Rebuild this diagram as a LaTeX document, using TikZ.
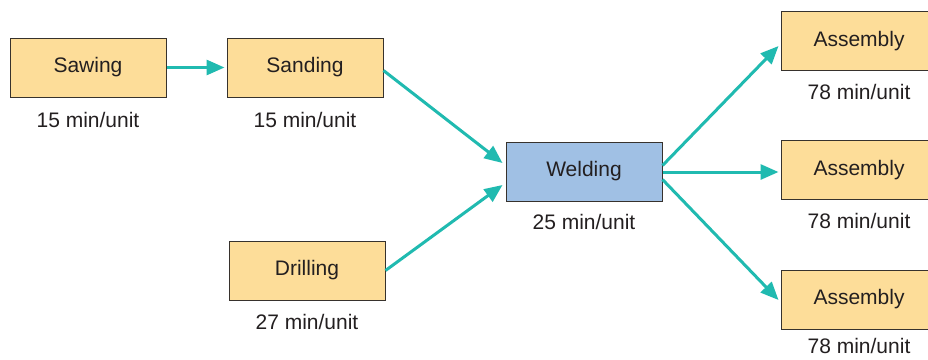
\documentclass[tikz,border=0pt]{standalone}
\usepackage{fontspec}
\setmainfont{Liberation Sans}
\usetikzlibrary{arrows.meta,calc}
\definecolor{boxorange}{RGB}{253,221,153}
\definecolor{boxblue}{RGB}{160,192,228}
\definecolor{arrowteal}{RGB}{32,186,176}
\definecolor{edgegray}{RGB}{55,50,45}
\definecolor{txt}{RGB}{35,31,32}
\tikzset{
  stepbox/.style={draw=edgegray, line width=1pt, fill=boxorange, minimum width=156pt, minimum height=59pt, inner sep=0pt, font=\fontsize{21}{25}\selectfont, text=txt},
  weldbox/.style={stepbox, fill=boxblue},
  ratelabel/.style={inner sep=0pt, font=\fontsize{21}{25}\selectfont, text=txt},
  flow/.style={draw=arrowteal, line width=3pt, -{Triangle[length=18pt,width=15pt]}}
}
\begin{document}
\begin{tikzpicture}[x=1pt,y=-1pt]
\clip (0,0) rectangle (928,359);
\fill[white] (0,0) rectangle (928,359);
\node[stepbox] (saw) at (88,67.5) {Sawing};
\node[stepbox] (sand) at (305,67.5) {Sanding};
\node[stepbox] (drill) at (307,270.5) {Drilling};
\node[weldbox] (weld) at (584,171.5) {Welding};
\node[stepbox] (as1) at (859,41) {Assembly};
\node[stepbox] (as2) at (859,170) {Assembly};
\node[stepbox] (as3) at (859,299.5) {Assembly};
\node[ratelabel] (lsaw) at (88,120) {15 min/unit};
\node[ratelabel] (lsand) at (305,120) {15 min/unit};
\node[ratelabel] (ldrill) at (307,322) {27 min/unit};
\node[ratelabel] (lweld) at (584,222) {25 min/unit};
\node[ratelabel] (las1) at (859,92) {78 min/unit};
\node[ratelabel] (las2) at (859,221) {78 min/unit};
\node[ratelabel] (las3) at (859,346) {78 min/unit};
\draw[flow] (saw.east) -- ([xshift=-2pt]sand.west);
\draw[flow] ([yshift=-3pt]sand.east) -- ([xshift=-3pt,yshift=8.5pt]weld.west);
\draw[flow] ([yshift=0pt]drill.east) -- ([xshift=-3pt,yshift=-13.5pt]weld.west);
\draw[flow] ([yshift=6pt]weld.east) -- ([xshift=-2pt,yshift=-5pt]as1.west);
\draw[flow] ([yshift=-0.5pt]weld.east) -- ([xshift=-2pt,yshift=-2pt]as2.west);
\draw[flow] ([yshift=-8pt]weld.east) -- ([xshift=-2pt,yshift=-0.5pt]as3.west);
\end{tikzpicture}
\end{document}
